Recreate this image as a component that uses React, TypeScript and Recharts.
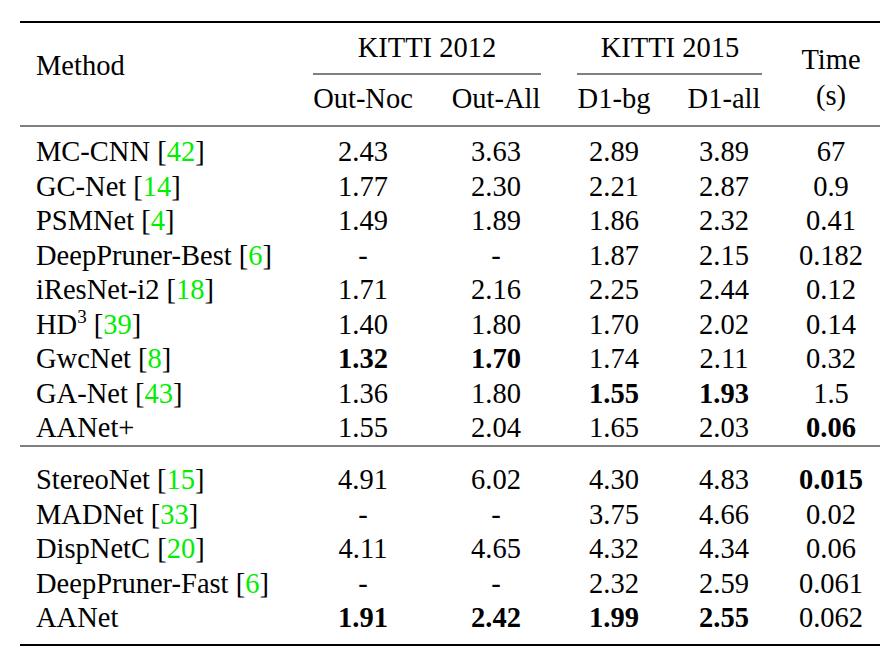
import React from 'react';
import { Surface } from 'recharts';

const methods = ['MC-CNN', 'GC-Net', 'PSMNet', 'DeepPruner-Best', 'iResNet-i2', 'HD', 'GwcNet', 'GA-Net', 'AANet+',
  'StereoNet', 'MADNet', 'DispNetC', 'DeepPruner-Fast', 'AANet'];
const refs = ['42', '14', '4', '6', '18', '39', '8', '43', '', '15', '33', '20', '6', ''];
const outNoc = ['2.43', '1.77', '1.49', '-', '1.71', '1.40', '1.32', '1.36', '1.55', '4.91', '-', '4.11', '-', '1.91'];
const outAll = ['3.63', '2.30', '1.89', '-', '2.16', '1.80', '1.70', '1.80', '2.04', '6.02', '-', '4.65', '-', '2.42'];
const d1bg = ['2.89', '2.21', '1.86', '1.87', '2.25', '1.70', '1.74', '1.55', '1.65', '4.30', '3.75', '4.32', '2.32', '1.99'];
const d1all = ['3.89', '2.87', '2.32', '2.15', '2.44', '2.02', '2.11', '1.93', '2.03', '4.83', '4.66', '4.34', '2.59', '2.55'];
const times = ['67', '0.9', '0.41', '0.182', '0.12', '0.14', '0.32', '1.5', '0.06', '0.015', '0.02', '0.06', '0.061', '0.062'];
// bold cells: [row, col]
const bold = ['6-0', '6-1', '7-2', '7-3', '8-4', '9-4', '13-0', '13-1', '13-2', '13-3'];

const colX = [363, 496, 614, 724, 831];
const rowY = (i: number) => (i < 9 ? 161 + i * 34.5 : 489 + (i - 9) * 34.5);
const FONT = '"Liberation Serif", "DejaVu Serif", serif';

export default function App() {
  const cols = [outNoc, outAll, d1bg, d1all, times];
  return (
    <div style={{ position: 'absolute', left: 0, top: 0, background: '#fff' }}>
      <Surface width={888} height={659} viewBox={{ x: 0, y: 0, width: 888, height: 659 }}>
        <g fontFamily={FONT} fontSize={28.5} fill="#000">
          <line x1={20} x2={880} y1={22} y2={22} stroke="#000" strokeWidth={2} />
          <line x1={20} x2={880} y1={126} y2={126} stroke="#000" strokeWidth={1.2} />
          <line x1={20} x2={880} y1={446} y2={446} stroke="#000" strokeWidth={1.2} />
          <line x1={20} x2={880} y1={645} y2={645} stroke="#000" strokeWidth={2} />
          <line x1={313} x2={541} y1={74} y2={74} stroke="#000" strokeWidth={1} />
          <line x1={577} x2={762} y1={74} y2={74} stroke="#000" strokeWidth={1} />
          <text x={36} y={75}>Method</text>
          <text x={427} y={57} textAnchor="middle">KITTI 2012</text>
          <text x={670} y={57} textAnchor="middle">KITTI 2015</text>
          <text x={831} y={69} textAnchor="middle">Time</text>
          <text x={831} y={105} textAnchor="middle">(s)</text>
          {['Out-Noc', 'Out-All', 'D1-bg', 'D1-all'].map((h, j) => (
            <text key={h} x={colX[j]} y={108} textAnchor="middle">{h}</text>
          ))}
          {methods.map((m, i) => (
            <text key={'m' + i} x={36} y={rowY(i)}>
              {m}
              {m === 'HD' && <tspan dy={-11} fontSize={19}>3</tspan>}
              {refs[i] && (
                <>
                  <tspan dy={m === 'HD' ? 11 : 0}>{' ['}</tspan>
                  <tspan fill="#00ee00">{refs[i]}</tspan>
                  <tspan>]</tspan>
                </>
              )}
            </text>
          ))}
          {cols.map((col, j) =>
            col.map((v, i) => (
              <text key={j + '-' + i} x={colX[j]} y={rowY(i)} textAnchor="middle"
                fontWeight={bold.includes(i + '-' + j) ? 'bold' : 'normal'}>{v}</text>
            ))
          )}
        </g>
      </Surface>
    </div>
  );
}
